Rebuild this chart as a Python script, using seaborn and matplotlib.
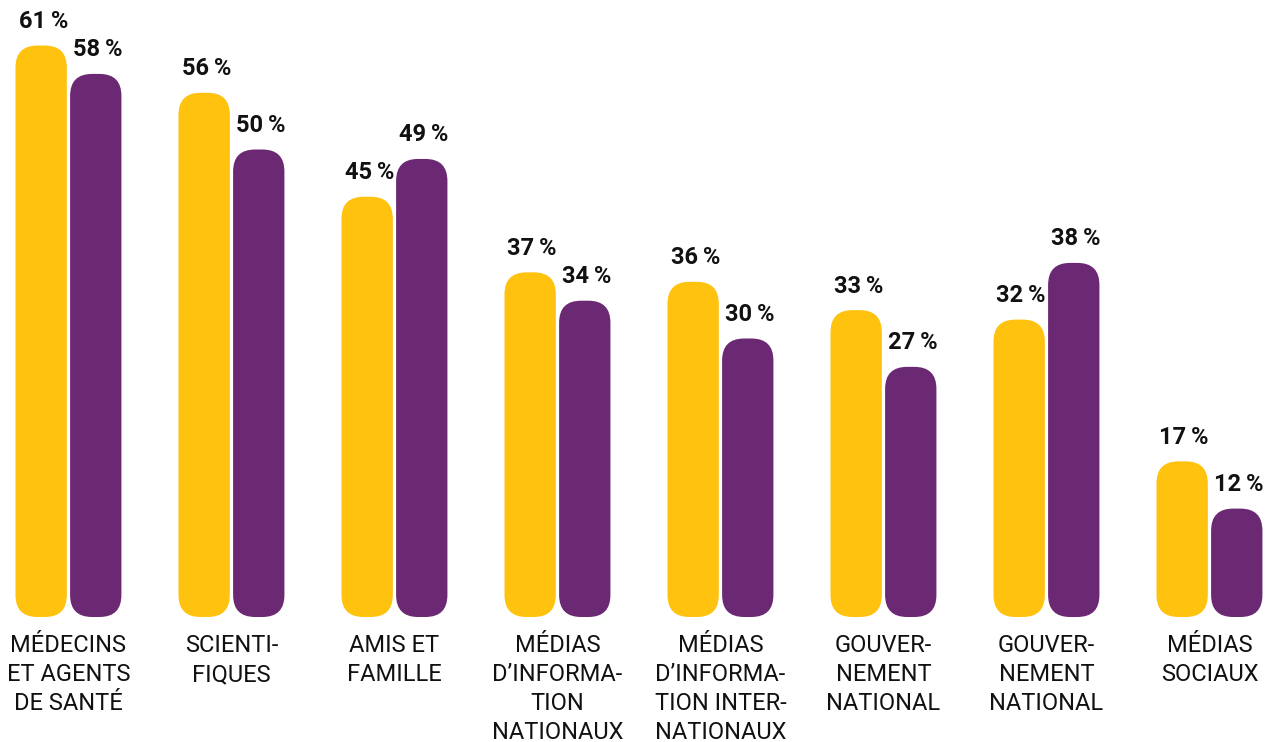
import pandas as pd
import seaborn as sns
import matplotlib.pyplot as plt
from matplotlib.patches import FancyBboxPatch

sns.set_theme(style="white")
plt.rcParams['font.family'] = ['Roboto', 'DejaVu Sans']

# Data
categories = [
    "MÉDECINS\nET AGENTS\nDE SANTÉ",
    "SCIENTI-\nFIQUES",
    "AMIS ET\nFAMILLE",
    "MÉDIAS\nD’INFORMA-\nTION\nNATIONAUX",
    "MÉDIAS\nD’INFORMA-\nTION INTER-\nNATIONAUX",
    "GOUVER-\nNEMENT\nNATIONAL",
    "GOUVER-\nNEMENT\nNATIONAL",
    "MÉDIAS\nSOCIAUX",
]
series_names = ["Série 1", "Série 2"]
values_1 = [61, 56, 45, 37, 36, 33, 32, 17]
values_2 = [58, 50, 49, 34, 30, 27, 38, 12]
colors = ["#FFC20E", "#6B2873"]

df = pd.DataFrame({
    "source": list(range(len(categories))) * 2,
    "serie": [series_names[0]] * len(categories) + [series_names[1]] * len(categories),
    "pct": values_1 + values_2,
})

fig = plt.figure(figsize=(12.75, 7.42), dpi=100)
fig.patch.set_facecolor("white")
ax = fig.add_axes([0, 120 / 742, 1, 622 / 742])

sns.barplot(
    data=df, x="source", y="pct", hue="serie", palette=colors, saturation=1,
    width=0.67, gap=0.06, legend=False, ax=ax, order=list(range(len(categories))),
)

ax.set_xlim(-0.42, -0.42 + 1275 / 163)
ax.set_ylim(0, 622 / 9.45)

# rounded bars
x_per_px = (ax.get_xlim()[1] - ax.get_xlim()[0]) / 1275
y_per_px = (ax.get_ylim()[1] - ax.get_ylim()[0]) / 622
aspect = y_per_px / x_per_px
radius = 22 * x_per_px
inset = 5 * y_per_px

bars = [p for p in ax.patches]
for bar in bars:
    x, y = bar.get_x(), bar.get_y()
    w, h = bar.get_width(), bar.get_height()
    color = bar.get_facecolor()
    bar.remove()
    rounded = FancyBboxPatch(
        (x, y + inset), w, h - inset,
        boxstyle=f"round,pad=0,rounding_size={radius}",
        mutation_aspect=aspect,
        facecolor=color, edgecolor="none", zorder=2,
    )
    ax.add_patch(rounded)
    ax.annotate(
        f"{int(round(h))}\u2009%", (x + w / 2, h),
        xytext=(1.5, 9), textcoords="offset points",
        ha="center", va="bottom", fontsize=17, fontweight="bold", color="#111111",
    )

ax.set_xticks(range(len(categories)))
ax.set_xticklabels(categories, fontsize=17, color="#111111", linespacing=1.33, va="top")
ax.tick_params(axis="x", length=0, pad=9)
ax.set_yticks([])
ax.set_xlabel("")
ax.set_ylabel("")
sns.despine(left=True, bottom=True)

fig.savefig("out.png", dpi=100, facecolor="white")
